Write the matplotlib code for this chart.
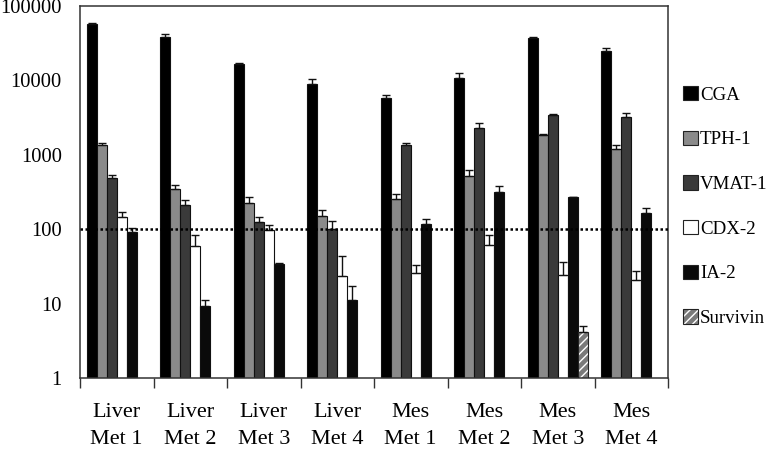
import matplotlib
matplotlib.use("Agg")
import matplotlib.pyplot as plt
import numpy as np
from matplotlib.patches import Patch

plt.rcParams["font.family"] = ["Liberation Serif", "DejaVu Serif"]

groups = ["Liver\nMet 1", "Liver\nMet 2", "Liver\nMet 3", "Liver\nMet 4",
          "Mes\nMet 1", "Mes\nMet 2", "Mes\nMet 3", "Mes\nMet 4"]
series = ["CGA", "TPH-1", "VMAT-1", "CDX-2", "IA-2", "Survivin"]

cga = [57000, 38000, 16600, 9000, 5800, 10700, 36600, 24800]
cga_err = [3000, 3600, 700, 1400, 570, 1800, 1500, 2700]
tph1 = [1370, 347, 225, 152, 252, 519, 1845, 1208]
tph1_err = [90, 40, 43, 29, 42, 106, 50, 147]
vmat1 = [483, 210, 125, 102, 1340, 2290, 3460, 3250]
vmat1_err = [55, 37, 21, 26, 115, 385, 110, 360]
cdx2 = [144, 59.5, 97.5, 23.3, 26, 60.7, 24, 20.8]
cdx2_err = [25, 25, 16, 20, 7, 23, 12, 7]
ia2 = [92.6, 9.2, 33.7, 11.2, 117, 313, 268, 167]
ia2_err = [12, 1.9, 1, 6, 21, 72, 5, 26]
survivin = [np.nan, np.nan, np.nan, np.nan, np.nan, np.nan, 4.1, np.nan]
survivin_err = [np.nan, np.nan, np.nan, np.nan, np.nan, np.nan, 0.9, np.nan]

values = [cga, tph1, vmat1, cdx2, ia2, survivin]
errors = [cga_err, tph1_err, vmat1_err, cdx2_err, ia2_err, survivin_err]
colors = ["#000000", "#8a8a8a", "#3a3a3a", "#ffffff", "#0a0a0a", "#7a7a7a"]

fig = plt.figure(figsize=(7.74, 4.5), dpi=100)
ax = fig.add_axes([80 / 774, 1 - 378 / 450, (668 - 80) / 774, (378 - 6) / 450])

x = np.arange(len(groups))
width = 0.135
for i, (name, vals, errs, col) in enumerate(zip(series, values, errors, colors)):
    pos = x - 2.5 * width + i * width
    vals = np.array(vals, dtype=float)
    errs = np.array(errs, dtype=float)
    if name == "Survivin":
        ax.bar(pos, vals, width, color=col, edgecolor="white", hatch="////",
               linewidth=0, zorder=2)
        ax.bar(pos, vals, width, fill=False, edgecolor="#222222", linewidth=0.8,
               zorder=3)
    else:
        ax.bar(pos, vals, width, color=col, edgecolor="#111111", linewidth=0.8,
               zorder=2)
    ax.errorbar(pos, vals, yerr=[np.zeros_like(errs), errs], fmt="none",
                ecolor="#111111", elinewidth=1.0, capsize=3, capthick=1.0,
                zorder=4)

ax.axhline(100, color="black", linestyle=(0, (1, 1)), linewidth=1.8, zorder=5)

ax.set_yscale("log")
ax.set_ylim(1, 100000)
ax.set_xlim(-0.5, len(groups) - 0.5)
ax.set_yticks([1, 10, 100, 1000, 10000, 100000])
ax.set_yticklabels(["1", "10", "100", "1000", "10000", "100000"])
ax.yaxis.set_minor_locator(matplotlib.ticker.NullLocator())
ax.tick_params(axis="y", length=0, pad=13, labelsize=14.8)

ax.set_xticks(x)
ax.set_xticklabels(groups, linespacing=1.6)
ax.set_xticks(np.arange(len(groups) + 1) - 0.5, minor=True)
ax.tick_params(axis="x", which="major", length=0, pad=18, labelsize=16)
ax.tick_params(axis="x", which="minor", length=7, width=1.0, color="#333333")

for sp in ax.spines.values():
    sp.set_color("#333333")
    sp.set_linewidth(1.1)

handles = []
for name, col in zip(series, colors):
    if name == "Survivin":
        handles.append((Patch(facecolor=col, edgecolor="white", hatch="////", linewidth=0),
                        Patch(fill=False, edgecolor="#222222", linewidth=0.8)))
    else:
        handles.append(Patch(facecolor=col, edgecolor="#222222", linewidth=0.8))

fig.legend(handles, series, loc="upper left", bbox_to_anchor=(683 / 774, 1 - 86 / 450),
           frameon=False, fontsize=13.6, handlelength=0.78, handleheight=0.78,
           handletextpad=0.12, labelspacing=1.43, borderaxespad=0, borderpad=0)

fig.savefig("out.png", dpi=100)
